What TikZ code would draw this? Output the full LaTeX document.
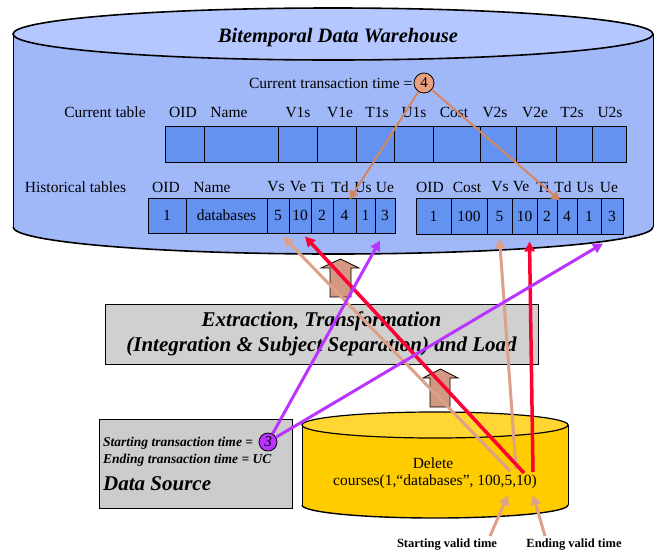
\documentclass[tikz,border=0pt]{standalone}
\usepackage{fontspec}
\setmainfont{Liberation Serif}
\usetikzlibrary{arrows.meta,positioning,calc}
\definecolor{whbody}{HTML}{A0B8F8}
\definecolor{whtop}{HTML}{B4C8FF}
\definecolor{cellblue}{HTML}{6492F0}
\definecolor{etlgray}{HTML}{D0D0D0}
\definecolor{srcgray}{HTML}{CCCCCC}
\definecolor{srcbody}{HTML}{FFCC00}
\definecolor{srctop}{HTML}{FFD633}
\definecolor{salmon}{HTML}{DDA088}
\definecolor{rust}{HTML}{D4865E}
\definecolor{nowfill}{HTML}{E8A080}
\definecolor{hot}{HTML}{FF0033}
\definecolor{tviolet}{HTML}{BB33FF}

\begin{document}
\begin{tikzpicture}[
  x=1pt, y=-1pt,
  >={Triangle[length=10pt,width=10pt]},
  lbl/.style={inner sep=0pt, font=\fontsize{15.5}{18}\selectfont},
  cell/.style={draw, line width=0.9pt, fill=cellblue, inner sep=0pt, font=\fontsize{15.5}{18}\selectfont},
  circ/.style={circle, draw, line width=0.8pt, minimum size=20pt, inner sep=0pt, font=\fontsize{15}{18}\selectfont},
  etlbox/.style={draw, line width=1pt, fill=etlgray, minimum width=433pt, minimum height=60pt, align=center,
    font=\bfseries\itshape\fontsize{21}{25}\selectfont},
  srcbox/.style={draw, line width=0.8pt, fill=srcgray, minimum width=193pt, minimum height=89pt},
  srctxt/.style={inner sep=0pt, anchor=west, font=\bfseries\itshape\fontsize{13.5}{16}\selectfont},
  vlbl/.style={inner sep=0pt, font=\bfseries\fontsize{12.5}{15}\selectfont},
  blockup/.style={draw, line width=0.8pt, fill=salmon!95!black},
]
\useasboundingbox (0,0) rectangle (655,555);

% Warehouse cylinder
\fill[whbody] (13,34) -- (13,227) arc[start angle=180, end angle=360, x radius=320pt, y radius=27pt] -- (653,34) -- cycle;
\draw[line width=1.6pt] (13,227) arc[start angle=180, end angle=360, x radius=320pt, y radius=27pt];
\draw[thin] (13,34) -- (13,227) (653,34) -- (653,227);
\draw[line width=1.6pt, fill=whtop] (333,34) ellipse[x radius=320pt, y radius=26pt];
\node[font=\bfseries\itshape\fontsize{20.5}{24}\selectfont] (title) at (338,38) {Bitemporal Data Warehouse};

% Current transaction time
\node[circ, fill=nowfill] (now) at (424,83) {4};
\node[lbl, left=1pt of now] (ctt) {Current transaction time =};

% Current table
\node[lbl] (curlbl) at (105,112) {Current table};
\foreach \x/\t in {183/OID, 229/Name, 298/V1s, 340/V1e, 377/T1s, 414/U1s, 454/Cost, 495/V2s, 535/V2e, 572/T2s, 610/U2s}
  \node[lbl] (c-\t) at (\x,112) {\t};
\foreach \l/\r [count=\i] in {165/204, 204/278, 278/317, 317/356, 356/394, 394/433, 433/480, 480/516, 516/556, 556/592, 592/626}
  \node[cell, minimum width={\r-\l}, minimum height=36pt] (cur\i) at ({(\l+\r)/2},144) {};

% Historical tables
\node[lbl] (histlbl) at (75.5,187) {Historical tables};
\foreach \x/\t in {166/OID, 212/Name, 276/Vs, 298/Ve, 318/Ti, 340/Td, 363/Us, 385/Ue}
  \node[lbl] (a-\t) at (\x,187) {\t};
\foreach \x/\t in {430/OID, 467/Cost, 500/Vs, 521/Ve, 543/Ti, 563/Td, 585/Us, 609/Ue}
  \node[lbl] (b-\t) at (\x,187) {\t};
\foreach \l/\r/\v [count=\i] in {148/186/1, 186/267/databases, 267/289/5, 289/311/10, 311/333/2, 333/356/4, 356/375/1, 375/395/3}
  \node[cell, minimum width={\r-\l}, minimum height=35pt] (ha\i) at ({(\l+\r)/2},215.5) {\v};
\foreach \l/\r/\v [count=\i] in {416/451/1, 451/487/100, 487/512/5, 512/537/10, 537/557/2, 557/577/4, 577/601/1, 601/623/3}
  \node[cell, minimum width={\r-\l}, minimum height=36pt] (hb\i) at ({(\l+\r)/2},216) {\v};

\draw[->, rust, line width=2pt, >={Triangle[length=9pt,width=9pt]}] (now) -- ([xshift=5pt,yshift=-2pt]ha6.north);
\draw[->, rust, line width=2pt, >={Triangle[length=9pt,width=9pt]}] (now) -- ([xshift=-7pt,yshift=-3pt]hb6.north);

% ETL
\node[etlbox] (etl) at (321.5,334) {Extraction, Transformation\\(Integration \& Subject Separation) and Load};
\draw[blockup] (330,297) -- (330,268) -- (321,268) -- (340.5,259) -- (359,268) -- (351,268) -- (351,297) -- cycle;
\draw[blockup] (430,407) -- (430,378) -- (423,378) -- (440.5,369) -- (458,378) -- (450,378) -- (450,407) -- cycle;

% Data source
\node[srcbox] (src) at (195.5,463.5) {};
\node[srctxt] (stt) at (103,443) {Starting transaction time =};
\node[srctxt] (ett) at (103,460) {Ending transaction time = UC};
\node[srctxt, font=\bfseries\itshape\fontsize{21}{24}\selectfont] (dsname) at (103,484) {Data Source};
\node[circ, fill=tviolet, minimum size=18pt, font=\itshape\fontsize{15}{18}\selectfont] (then) at (268,442) {3};

% Source cylinder
\fill[srcbody] (302,425) -- (302,505) arc[start angle=180, end angle=360, x radius=133pt, y radius=13pt] -- (568,425) -- cycle;
\draw[line width=1.4pt] (302,505) arc[start angle=180, end angle=360, x radius=133pt, y radius=13pt];
\draw[thin] (302,425) -- (302,505) (568,425) -- (568,505);
\draw[line width=1.2pt, fill=srctop] (435,425) ellipse[x radius=133pt, y radius=13pt];
\node[lbl] (del) at (433,463) {Delete};
\node[lbl] (crs) at (435,482) {courses(1,“databases”, 100,5,10)};

\coordinate (v5a) at (510,471);
\coordinate (v5b) at (516,469);
\coordinate (v10a) at (524,473);
\coordinate (v10b) at (533,472);
\coordinate (vs) at (508,495);
\coordinate (ve) at (533,495);

% Propagation of the deletion
\draw[->, salmon, line width=3pt] (v5a) -- ([xshift=5pt,yshift=-3pt]ha3.south);
\draw[->, salmon, line width=3pt] (v5b) -- ([yshift=-4pt]hb3.south);
\draw[->, hot, line width=3.5pt] (v10a) -- ([xshift=5pt,yshift=-3pt]ha4.south);
\draw[->, hot, line width=3.5pt] (v10b) -- ([xshift=5pt,yshift=-7pt]hb4.south);
\draw[->, tviolet, line width=3pt] (then) -- ([xshift=-5pt,yshift=-7pt]ha8.south);
\draw[->, tviolet, line width=3pt] (then) -- ([xshift=-9pt,yshift=-9pt]hb8.south);

% Valid time labels
\node[vlbl] (svt) at (447,545) {Starting valid time};
\node[vlbl] (evt) at (574,545) {Ending valid time};
\draw[->, salmon, line width=3pt] ([xshift=43pt,yshift=3pt]svt.north) -- (vs);
\draw[->, salmon, line width=3pt] ([xshift=-29pt,yshift=3pt]evt.north) -- (ve);

\end{tikzpicture}
\end{document}
